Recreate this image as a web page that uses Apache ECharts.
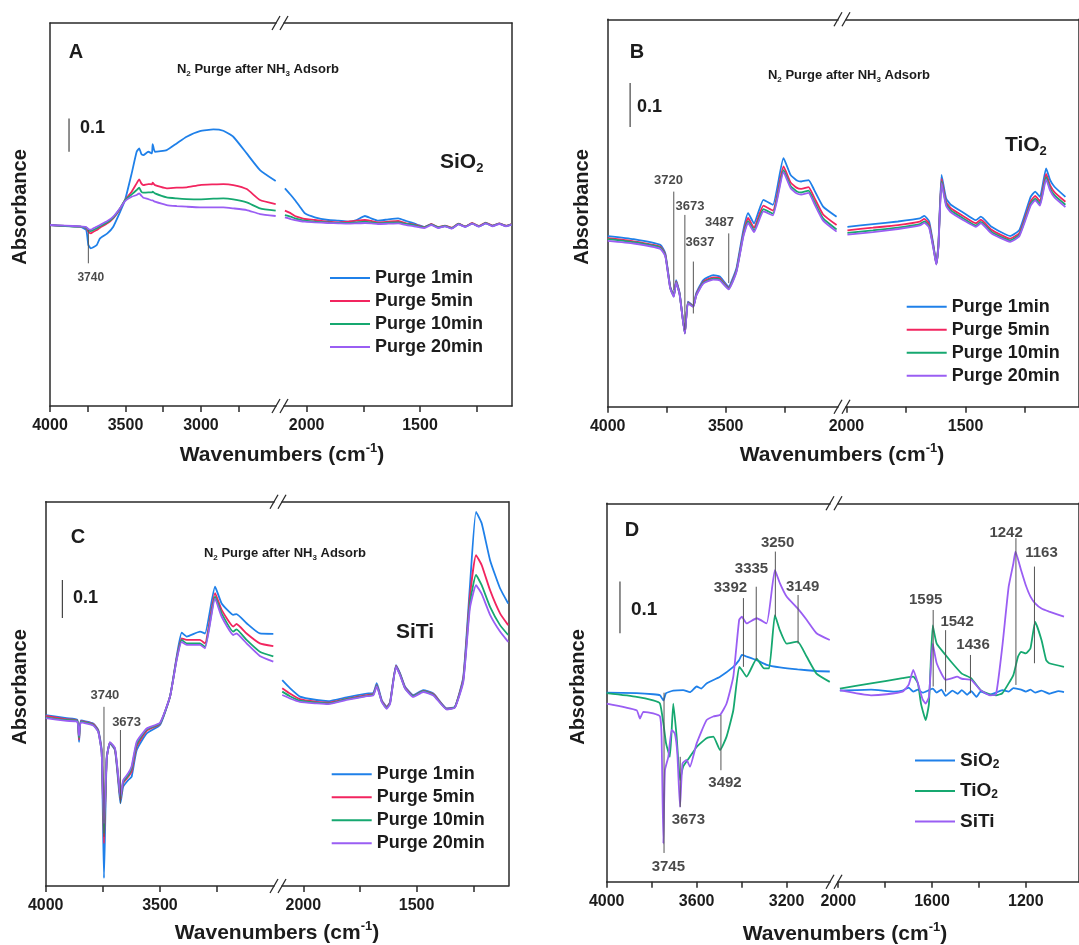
<!DOCTYPE html>
<html>
<head>
<meta charset="utf-8">
<title>N2 purge after NH3 adsorb</title>
<script src="https://cdn.jsdelivr.net/npm/echarts@6/dist/echarts.min.js"></script>
<style>
  html, body { margin: 0; padding: 0; background: #fff; }
  #chart { width: 1079px; height: 945px; }
</style>
</head>
<body>
<div id="chart"></div>
<script>
// ---- panel A (SiO2) ----
var aWaveL = [4000, 3900, 3800, 3760, 3746, 3730, 3713, 3690, 3669, 3620, 3581, 3540, 3503, 3459, 3426, 3409, 3395, 3382, 3349, 3325, 3320, 3305, 3227, 3161, 3095, 3007, 2918, 2852, 2786, 2697, 2609, 2505];
var aP1L  = [0, -0.003, -0.005, -0.015, -0.06, -0.07, -0.067, -0.06, -0.04, -0.025, -0.005, 0.035, 0.075, 0.155, 0.22, 0.23, 0.213, 0.21, 0.22, 0.215, 0.243, 0.22, 0.225, 0.245, 0.265, 0.282, 0.287, 0.283, 0.265, 0.215, 0.165, 0.132];
var aP5L  = [0, -0.003, -0.005, -0.01, -0.02, -0.025, -0.02, -0.015, -0.008, 0.005, 0.02, 0.045, 0.075, 0.1, 0.125, 0.137, 0.125, 0.12, 0.123, 0.122, 0.127, 0.12, 0.11, 0.112, 0.113, 0.12, 0.122, 0.123, 0.12, 0.108, 0.075, 0.063];
var aP10L = [0, -0.003, -0.005, -0.008, -0.015, -0.018, -0.015, -0.01, -0.004, 0.008, 0.022, 0.047, 0.075, 0.092, 0.105, 0.112, 0.1, 0.097, 0.098, 0.098, 0.1, 0.095, 0.083, 0.08, 0.078, 0.077, 0.079, 0.08, 0.077, 0.068, 0.05, 0.043];
var aP20L = [0, -0.002, -0.004, -0.006, -0.012, -0.014, -0.01, -0.005, 0, 0.012, 0.025, 0.048, 0.072, 0.085, 0.09, 0.095, 0.088, 0.082, 0.078, 0.074, 0.074, 0.07, 0.06, 0.057, 0.055, 0.053, 0.053, 0.053, 0.05, 0.045, 0.033, 0.027];
var aWaveR = [2096, 2070, 2052, 2030, 2008, 1964, 1905, 1860, 1817, 1780, 1743, 1715, 1685, 1640, 1596, 1560, 1530, 1508, 1480, 1450, 1420, 1390, 1360, 1330, 1300, 1270, 1240, 1210, 1180, 1150, 1120, 1096];
var aP1R  = [0.11, 0.09, 0.075, 0.055, 0.035, 0.023, 0.015, 0.013, 0.01, 0.015, 0.027, 0.02, 0.013, 0.017, 0.02, 0.012, 0.006, 0, -0.006, 0.002, -0.008, -0.003, -0.01, 0.003, -0.005, 0.004, -0.004, 0.005, -0.002, 0.004, -0.003, 0.002];
var aP5R  = [0.043, 0.035, 0.027, 0.022, 0.018, 0.015, 0.01, 0.008, 0.01, 0.013, 0.015, 0.012, 0.008, 0.01, 0.012, 0.005, 0.002, -0.002, -0.006, 0.003, -0.006, -0.002, -0.008, 0.004, -0.004, 0.006, -0.003, 0.007, -0.002, 0.005, -0.002, 0.003];
var aP10R = [0.03, 0.025, 0.02, 0.016, 0.013, 0.01, 0.008, 0.006, 0.006, 0.008, 0.01, 0.008, 0.005, 0.007, 0.008, 0.003, 0, -0.004, -0.007, 0.002, -0.007, -0.003, -0.009, 0.003, -0.005, 0.005, -0.004, 0.006, -0.003, 0.004, -0.003, 0.002];
var aP20R = [0.023, 0.018, 0.015, 0.012, 0.01, 0.008, 0.006, 0.005, 0.004, 0.005, 0.006, 0.005, 0.003, 0.004, 0.005, 0, -0.003, -0.006, -0.009, 0, -0.009, -0.004, -0.011, 0.002, -0.006, 0.004, -0.005, 0.005, -0.004, 0.003, -0.004, 0.001];

// ---- panel B (TiO2) ----
var bWaveL = [4000, 3890, 3777, 3756, 3735, 3720, 3710, 3695, 3673, 3660, 3637, 3625, 3595, 3553, 3525, 3487, 3470, 3453, 3425, 3405, 3380, 3340, 3300, 3255, 3225, 3200, 3180, 3149, 3125, 3087, 3030];
var bP1L  = [0.009, 0.002, -0.011, -0.03, -0.106, -0.125, -0.091, -0.121, -0.212, -0.14, -0.15, -0.121, -0.091, -0.08, -0.083, -0.106, -0.087, -0.061, 0.023, 0.061, 0.038, 0.091, 0.08, 0.186, 0.148, 0.136, 0.133, 0.136, 0.114, 0.076, 0.053];
var bP5L  = [0.004, -0.003, -0.015, -0.033, -0.108, -0.127, -0.094, -0.123, -0.212, -0.142, -0.15, -0.124, -0.095, -0.085, -0.087, -0.109, -0.091, -0.066, 0.015, 0.05, 0.028, 0.078, 0.067, 0.167, 0.131, 0.119, 0.116, 0.12, 0.097, 0.058, 0.034];
var bP10L = [0.002, -0.005, -0.017, -0.035, -0.109, -0.128, -0.096, -0.124, -0.212, -0.143, -0.151, -0.126, -0.097, -0.088, -0.09, -0.111, -0.093, -0.068, 0.011, 0.043, 0.022, 0.07, 0.06, 0.159, 0.123, 0.111, 0.108, 0.112, 0.088, 0.049, 0.024];
var bP20L = [-0.002, -0.008, -0.02, -0.037, -0.11, -0.129, -0.097, -0.125, -0.213, -0.144, -0.152, -0.127, -0.099, -0.09, -0.092, -0.112, -0.095, -0.07, 0.008, 0.039, 0.018, 0.065, 0.056, 0.154, 0.118, 0.106, 0.103, 0.107, 0.083, 0.044, 0.019];
var bWaveR = [1996, 1889, 1784, 1692, 1673, 1653, 1634, 1623, 1614, 1601, 1582, 1562, 1509, 1457, 1436, 1391, 1313, 1274, 1227, 1208, 1188, 1162, 1145, 1127, 1081];
var bP1R  = [0.03, 0.036, 0.042, 0.049, 0.055, 0.042, -0.015, -0.053, -0.008, 0.148, 0.095, 0.08, 0.062, 0.045, 0.053, 0.03, 0.009, 0.023, 0.098, 0.11, 0.098, 0.163, 0.136, 0.121, 0.098];
var bP5R  = [0.022, 0.028, 0.034, 0.042, 0.048, 0.036, -0.018, -0.054, -0.011, 0.139, 0.087, 0.072, 0.054, 0.038, 0.046, 0.023, 0.003, 0.016, 0.088, 0.1, 0.088, 0.15, 0.124, 0.109, 0.087];
var bP10R = [0.016, 0.022, 0.028, 0.036, 0.042, 0.031, -0.021, -0.055, -0.013, 0.133, 0.082, 0.067, 0.049, 0.033, 0.041, 0.018, -0.001, 0.012, 0.082, 0.094, 0.082, 0.143, 0.117, 0.102, 0.08];
var bP20R = [0.012, 0.018, 0.025, 0.033, 0.039, 0.028, -0.023, -0.056, -0.015, 0.129, 0.078, 0.063, 0.045, 0.03, 0.038, 0.015, -0.004, 0.009, 0.078, 0.09, 0.078, 0.138, 0.112, 0.097, 0.075];

// ---- panel C (SiTi) ----
var cWaveL = [4000, 3908, 3862, 3854, 3846, 3792, 3770, 3755, 3745, 3733, 3719, 3697, 3682, 3673, 3661, 3639, 3624, 3602, 3558, 3500, 3456, 3427, 3405, 3383, 3325, 3303, 3259, 3230, 3179, 3165, 3121, 3063, 3004];
var cP1L  = [0.004, -0.004, -0.008, -0.066, -0.01, -0.018, -0.035, -0.088, -0.425, -0.105, -0.07, -0.088, -0.175, -0.228, -0.184, -0.167, -0.158, -0.088, -0.044, -0.022, 0.053, 0.158, 0.221, 0.211, 0.224, 0.219, 0.342, 0.298, 0.268, 0.27, 0.246, 0.219, 0.218];
var cP5L  = [0.002, -0.007, -0.01, -0.06, -0.012, -0.019, -0.037, -0.092, -0.333, -0.11, -0.068, -0.086, -0.167, -0.219, -0.175, -0.158, -0.145, -0.079, -0.037, -0.019, 0.053, 0.154, 0.206, 0.202, 0.202, 0.193, 0.325, 0.281, 0.237, 0.244, 0.219, 0.193, 0.186];
var cP10L = [-0.002, -0.009, -0.011, -0.055, -0.013, -0.021, -0.039, -0.095, -0.307, -0.111, -0.068, -0.084, -0.162, -0.215, -0.171, -0.154, -0.136, -0.072, -0.033, -0.018, 0.053, 0.151, 0.202, 0.193, 0.193, 0.184, 0.316, 0.272, 0.224, 0.23, 0.202, 0.171, 0.159];
var cP20L = [-0.004, -0.011, -0.013, -0.05, -0.015, -0.023, -0.04, -0.096, -0.281, -0.111, -0.067, -0.082, -0.158, -0.211, -0.167, -0.149, -0.13, -0.066, -0.031, -0.016, 0.053, 0.149, 0.197, 0.189, 0.189, 0.18, 0.311, 0.263, 0.215, 0.219, 0.193, 0.16, 0.145];
var cWaveR = [2093, 2059, 2015, 1941, 1890, 1809, 1720, 1691, 1676, 1654, 1632, 1617, 1591, 1573, 1551, 1515, 1471, 1426, 1367, 1331, 1294, 1265, 1238, 1213, 1176, 1132, 1096];
var cP1R  = [0.096, 0.075, 0.053, 0.044, 0.041, 0.051, 0.061, 0.063, 0.088, 0.044, 0.026, 0.039, 0.136, 0.114, 0.079, 0.057, 0.07, 0.061, 0.022, 0.026, 0.105, 0.342, 0.539, 0.509, 0.412, 0.338, 0.298];
var cP5R  = [0.075, 0.061, 0.046, 0.039, 0.037, 0.047, 0.057, 0.06, 0.083, 0.042, 0.025, 0.038, 0.134, 0.112, 0.077, 0.055, 0.068, 0.06, 0.021, 0.025, 0.101, 0.316, 0.425, 0.399, 0.333, 0.272, 0.241];
var cP10R = [0.066, 0.054, 0.042, 0.037, 0.035, 0.046, 0.055, 0.058, 0.082, 0.04, 0.023, 0.036, 0.132, 0.111, 0.075, 0.054, 0.067, 0.058, 0.02, 0.025, 0.096, 0.298, 0.373, 0.346, 0.289, 0.241, 0.215];
var cP20R = [0.057, 0.048, 0.039, 0.035, 0.033, 0.044, 0.054, 0.056, 0.08, 0.039, 0.021, 0.034, 0.131, 0.109, 0.074, 0.052, 0.065, 0.056, 0.019, 0.024, 0.092, 0.285, 0.346, 0.323, 0.268, 0.224, 0.197];

// ---- panel D (comparison), [wavenumber, absorbance] ----
var dSio2L = [[4000, 0], [3867, -0.001], [3793, -0.003], [3763, -0.005], [3748, -0.015], [3736, -0.001], [3704, 0.004], [3660, 0.005], [3630, 0.001], [3600, 0.012], [3580, 0.008], [3556, 0.018], [3496, 0.031], [3437, 0.05], [3411, 0.063], [3399, 0.073], [3378, 0.07], [3333, 0.063], [3289, 0.054], [3230, 0.049], [3151, 0.045], [3067, 0.042], [3008, 0.041]];
var dTio2L = [[4000, -0.001], [3867, -0.008], [3793, -0.015], [3763, -0.021], [3748, -0.059], [3736, -0.098], [3719, -0.124], [3704, -0.021], [3689, -0.085], [3674, -0.169], [3660, -0.143], [3630, -0.124], [3600, -0.105], [3556, -0.088], [3526, -0.085], [3496, -0.111], [3467, -0.085], [3437, -0.034], [3411, 0.05], [3399, 0.044], [3378, 0.031], [3333, 0.066], [3300, 0.047], [3278, 0.047], [3252, 0.15], [3230, 0.121], [3200, 0.095], [3151, 0.099], [3111, 0.07], [3067, 0.037], [3008, 0.021]];
var dSitiL = [[4000, -0.021], [3867, -0.034], [3852, -0.05], [3837, -0.037], [3793, -0.04], [3763, -0.046], [3756, -0.085], [3748, -0.292], [3741, -0.15], [3726, -0.124], [3711, -0.072], [3697, -0.079], [3686, -0.117], [3674, -0.221], [3663, -0.137], [3645, -0.13], [3630, -0.143], [3600, -0.098], [3556, -0.053], [3526, -0.046], [3496, -0.043], [3467, -0.021], [3437, 0.031], [3411, 0.141], [3399, 0.147], [3378, 0.134], [3333, 0.144], [3289, 0.134], [3252, 0.237], [3230, 0.212], [3200, 0.186], [3151, 0.163], [3111, 0.141], [3067, 0.115], [3008, 0.102]];
var dSio2R = [[1993, 0.004], [1860, 0.006], [1760, 0.002], [1726, 0.004], [1700, 0.01], [1680, 0.002], [1660, 0.006], [1640, 0], [1613, 0.005], [1597, 0.008], [1580, 0], [1560, 0.006], [1542, -0.006], [1513, 0.004], [1490, -0.002], [1473, 0.005], [1450, -0.004], [1433, 0.003], [1410, -0.008], [1393, 0.002], [1353, -0.004], [1327, 0], [1300, 0.005], [1273, 0.002], [1253, 0.009], [1220, 0.006], [1200, 0.002], [1180, 0.006], [1160, 0], [1133, 0.004], [1100, -0.002], [1060, 0.003], [1037, 0.001]];
var dTio2R = [[1993, 0.008], [1860, 0.018], [1726, 0.028], [1700, 0.03], [1680, 0.031], [1660, 0.018], [1647, -0.021], [1627, -0.053], [1613, -0.021], [1597, 0.13], [1580, 0.095], [1542, 0.073], [1513, 0.057], [1473, 0.037], [1433, 0.028], [1393, 0.005], [1353, -0.003], [1327, -0.005], [1300, -0.001], [1273, 0.018], [1253, 0.034], [1233, 0.07], [1220, 0.079], [1200, 0.076], [1180, 0.086], [1160, 0.137], [1133, 0.102], [1113, 0.063], [1100, 0.057], [1037, 0.05]];
var dSitiR = [[1993, 0.005], [1860, -0.005], [1793, -0.003], [1726, 0.002], [1700, 0.015], [1680, 0.044], [1660, 0.018], [1640, -0.013], [1627, -0.021], [1613, -0.008], [1597, 0.095], [1580, 0.057], [1542, 0.025], [1513, 0.028], [1493, 0.031], [1473, 0.027], [1433, 0.025], [1393, 0.005], [1353, -0.005], [1327, -0.003], [1300, 0.09], [1273, 0.205], [1253, 0.25], [1244, 0.273], [1220, 0.237], [1200, 0.208], [1180, 0.186], [1160, 0.173], [1133, 0.163], [1100, 0.157], [1037, 0.147]];

// peak marks: [line wavenumber, from, to, text, label wavenumber, label absorbance]
var aMarks  = [[3746, -0.015, -0.115, '3740', 3730, -0.159]];
var bMarks  = [[3720, 0.11, -0.114, '3720', 3742, 0.136], [3673, 0.057, -0.205, '3673', 3651, 0.076], [3637, -0.049, -0.167, '3637', 3609, -0.006], [3487, 0.015, -0.098, '3487', 3526, 0.039]];
var cMarks  = [[3745, 0.026, -0.316, '3740', 3741, 0.055], [3673, -0.035, -0.228, '3673', 3646, -0.015]];
var dMarksL = [[3745, 0, -0.31, '3745', 3726, -0.337], [3673, -0.124, -0.221, '3673', 3637, -0.246], [3492, -0.043, -0.15, '3492', 3474, -0.174], [3392, 0.183, 0.05, '3392', 3450, 0.202], [3335, 0.205, 0.063, '3335', 3356, 0.239], [3250, 0.273, 0.147, '3250', 3240, 0.29], [3149, 0.189, 0.095, '3149', 3129, 0.205]];
var dMarksR = [[1595, 0.16, 0.012, '1595', 1627, 0.179], [1542, 0.121, 0.002, '1542', 1493, 0.137], [1436, 0.073, -0.001, '1436', 1425, 0.092], [1242, 0.299, 0.015, '1242', 1284, 0.31], [1163, 0.244, 0.057, '1163', 1133, 0.27]];

// 0.1 scale bars: [wavenumber, lower end]
var aScale = [3874, 0.22];
var bScale = [3905, 0.257];
var cScale = [3927, 0.26];
var dScale = [3941, 0.115];

// tick marks and tick labels
var ticks250L = [4000, 3750, 3500, 3250];
var aTicksL = [4000, 3750, 3500, 3250, 3000, 2750];
var aLabelsL = [4000, 3500, 3000];
var labels500L = [4000, 3500];
var ticks250R = [2000, 1750, 1500, 1250];
var labels500R = [2000, 1500];
var dTicksL = [4000, 3800, 3600, 3400, 3200];
var dLabelsL = [4000, 3600, 3200];
var dTicksR = [2000, 1800, 1600, 1400, 1200];
var dLabelsR = [2000, 1600, 1200];

var PURGE = ['Purge 1min', 'Purge 5min', 'Purge 10min', 'Purge 20min'];
var SAMPLES = ['SiO2', 'TiO2', 'SiTi'];
var COLORS = ['#1f80e9', '#f2255f', '#16a870', '#9a5ef3'];
var FONT = '"Liberation Sans", Arial, sans-serif';
var INK = '#1c1c1c';

// broken-axis segments: pixel box + wavenumber / absorbance range
var segs = [
  {x0: 50,    x1: 276,  top: 23,    bottom: 406,   wMax: 4000, wMin: 2503, yMin: -0.5435, yMax: 0.6066, side: 'left',  ticks: aTicksL,   labels: aLabelsL},
  {x0: 284,   x1: 512,  top: 23,    bottom: 406,   wMax: 2100, wMin: 1094, yMin: -0.5435, yMax: 0.6066, side: 'right', ticks: ticks250R, labels: labels500R},
  {x0: 607.7, x1: 838,  top: 19.3,  bottom: 406.7, wMax: 4000, wMin: 3024, yMin: -0.3789, yMax: 0.5016, side: 'left',  ticks: ticks250L, labels: labels500L},
  {x0: 846,   x1: 1095, top: 19.3,  bottom: 406.7, wMax: 2002, wMin: 1024, yMin: -0.3789, yMax: 0.5016, side: 'right', ticks: ticks250R, labels: labels500R},
  {x0: 45.7,  x1: 274,  top: 501.7, bottom: 886,   wMax: 4000, wMin: 3001, yMin: -0.4455, yMax: 0.5658, side: 'left',  ticks: ticks250L, labels: labels500L},
  {x0: 282,   x1: 508.3, top: 501.7, bottom: 886,  wMax: 2094, wMin: 1095.5, yMin: -0.4455, yMax: 0.5658, side: 'right', ticks: ticks250R, labels: labels500R},
  {x0: 606.7, x1: 830,  top: 503.3, bottom: 881.7, wMax: 4000, wMin: 3007, yMin: -0.3656, yMax: 0.3664, side: 'left',  ticks: dTicksL, labels: dLabelsL},
  {x0: 838,   x1: 1095, top: 503.3, bottom: 881.7, wMax: 2001, wMin: 973,  yMin: -0.3656, yMax: 0.3664, side: 'right', ticks: dTicksR, labels: dLabelsR}
];

var frameLine = {color: '#2a2a2a', width: 1.5};
var grids = [], xAxes = [], yAxes = [], series = [];

segs.forEach(function (s, i) {
  grids.push({left: s.x0, width: s.x1 - s.x0, top: s.top, height: s.bottom - s.top, containLabel: false});
  xAxes.push({
    type: 'value', gridIndex: i, position: 'bottom', inverse: true, min: s.wMin, max: s.wMax,
    axisLine: {show: true, onZero: false, lineStyle: frameLine},
    axisTick: {show: true, customValues: s.ticks, length: 6, lineStyle: frameLine},
    axisLabel: {customValues: s.labels, margin: 12, fontSize: 16, fontWeight: 'bold', color: INK, fontFamily: FONT,
                formatter: function (v) { return String(v); }},
    splitLine: {show: false}
  });
  xAxes.push({
    type: 'value', gridIndex: i, position: 'top', inverse: true, min: s.wMin, max: s.wMax,
    axisLine: {show: true, onZero: false, lineStyle: frameLine},
    axisTick: {show: false}, axisLabel: {show: false}, splitLine: {show: false}
  });
  yAxes.push({
    type: 'value', gridIndex: i, position: s.side, min: s.yMin, max: s.yMax,
    axisLine: {show: true, onZero: false, lineStyle: frameLine},
    axisTick: {show: false}, axisLabel: {show: false}, splitLine: {show: false}
  });
});

function zip(ws, vs) {
  return ws.map(function (w, i) { return [w, vs[i]]; });
}

function spectrum(seg, name, color, data) {
  series.push({
    type: 'line', name: name, xAxisIndex: seg * 2, yAxisIndex: seg, data: data,
    symbol: 'none', smooth: 0.15, silent: true, z: 3,
    lineStyle: {color: color, width: 1.8}, itemStyle: {color: color}
  });
}

function marks(seg, list, size) {
  list.forEach(function (m) {
    series.push({
      type: 'line', xAxisIndex: seg * 2, yAxisIndex: seg, data: [[m[0], m[1]], [m[0], m[2]]],
      symbol: 'none', silent: true, z: 4, lineStyle: {color: '#555', width: 1}
    });
  });
  series.push({
    type: 'scatter', xAxisIndex: seg * 2, yAxisIndex: seg, symbolSize: 1, silent: true, z: 5,
    itemStyle: {color: 'rgba(0,0,0,0)'},
    label: {show: true, position: 'inside', fontSize: size, fontWeight: 'bold', color: INK, fontFamily: FONT},
    data: list.map(function (m) { return {value: [m[4], m[5]], label: {formatter: m[3]}}; })
  });
}

function scaleBar(seg, sb) {
  series.push({
    type: 'line', xAxisIndex: seg * 2, yAxisIndex: seg, data: [[sb[0], sb[1]], [sb[0], sb[1] + 0.1]],
    symbol: 'none', silent: true, z: 4, lineStyle: {color: '#444', width: 1.2}
  });
}

var aL = [aP1L, aP5L, aP10L, aP20L], aR = [aP1R, aP5R, aP10R, aP20R];
var bL = [bP1L, bP5L, bP10L, bP20L], bR = [bP1R, bP5R, bP10R, bP20R];
var cL = [cP1L, cP5L, cP10L, cP20L], cR = [cP1R, cP5R, cP10R, cP20R];
for (var k = 0; k < 4; k++) {
  spectrum(0, PURGE[k], COLORS[k], zip(aWaveL, aL[k]));
  spectrum(1, PURGE[k], COLORS[k], zip(aWaveR, aR[k]));
  spectrum(2, PURGE[k], COLORS[k], zip(bWaveL, bL[k]));
  spectrum(3, PURGE[k], COLORS[k], zip(bWaveR, bR[k]));
  spectrum(4, PURGE[k], COLORS[k], zip(cWaveL, cL[k]));
  spectrum(5, PURGE[k], COLORS[k], zip(cWaveR, cR[k]));
}
var dColors = [COLORS[0], COLORS[2], COLORS[3]];
[dSio2L, dTio2L, dSitiL].forEach(function (d, k) { spectrum(6, SAMPLES[k], dColors[k], d); });
[dSio2R, dTio2R, dSitiR].forEach(function (d, k) { spectrum(7, SAMPLES[k], dColors[k], d); });

marks(0, aMarks, 12);
marks(2, bMarks, 13);
marks(4, cMarks, 13);
marks(6, dMarksL, 15);
marks(7, dMarksR, 15);
scaleBar(0, aScale);
scaleBar(2, bScale);
scaleBar(4, cScale);
scaleBar(6, dScale);

// legends: plain line keys
function purgeLegend(left, top) {
  return {
    data: PURGE, left: left, top: top, orient: 'vertical', padding: 0,
    icon: 'rect', itemWidth: 40, itemHeight: 2, itemGap: 5, selectedMode: false,
    textStyle: {fontSize: 18, fontWeight: 'bold', color: INK, fontFamily: FONT, lineHeight: 18}
  };
}
var legends = [
  purgeLegend(330, 269),
  purgeLegend(906.7, 297.7),
  purgeLegend(331.7, 765.3),
  {
    data: SAMPLES, left: 915, top: 751, orient: 'vertical', padding: 0,
    icon: 'rect', itemWidth: 40, itemHeight: 2, itemGap: 11, selectedMode: false,
    formatter: function (n) { return n === 'SiTi' ? '{b|SiTi}' : '{b|' + n.slice(0, 3) + '}{s|2}'; },
    textStyle: {
      color: INK, fontFamily: FONT,
      rich: {
        b: {fontSize: 19, fontWeight: 'bold', lineHeight: 20, color: INK, fontFamily: FONT},
        s: {fontSize: 12, fontWeight: 'bold', lineHeight: 10, verticalAlign: 'bottom', color: INK, fontFamily: FONT}
      }
    }
  }
];

// free text
function richSet(size) {
  return {
    n: {fontSize: size, fontWeight: 'bold', fontFamily: FONT, color: INK, lineHeight: size + 5},
    s: {fontSize: Math.round(size * 0.62), fontWeight: 'bold', fontFamily: FONT, color: INK, lineHeight: Math.round(size * 0.6), verticalAlign: 'bottom'},
    p: {fontSize: Math.round(size * 0.62), fontWeight: 'bold', fontFamily: FONT, color: INK, lineHeight: Math.round(size * 0.6), verticalAlign: 'top'}
  };
}
function label(x, y, text, size, align, rot) {
  return {
    type: 'text', x: x, y: y, rotation: rot || 0, silent: true, z: 10,
    style: {text: text, align: align || 'center', verticalAlign: 'middle', rich: richSet(size),
            fontSize: size, fontWeight: 'bold', fontFamily: FONT, fill: INK}
  };
}
function breakMark(bx, y) {
  return [-4, 4].map(function (dx) {
    return {type: 'line', silent: true, z: 10,
      shape: {x1: bx + dx - 4, y1: y + 7, x2: bx + dx + 4, y2: y - 7},
      style: {stroke: '#2a2a2a', lineWidth: 1.3}};
  });
}

var subtitle = '{n|N}{s|2}{n| Purge after NH}{s|3}{n| Adsorb}';
var xName = '{n|Wavenumbers (cm}{p|-1}{n|)}';
var graphics = [
  label(76, 52, '{n|A}', 20), label(258, 69, subtitle, 13), label(80, 128, '{n|0.1}', 18, 'left'),
  label(440, 162, '{n|SiO}{s|2}', 21, 'left'), label(20, 207, '{n|Absorbance}', 20, 'center', Math.PI / 2),
  label(282, 455, xName, 21),
  label(637, 52, '{n|B}', 20), label(849, 75, subtitle, 13), label(637, 107, '{n|0.1}', 18, 'left'),
  label(1005, 145, '{n|TiO}{s|2}', 21, 'left'), label(582, 207, '{n|Absorbance}', 20, 'center', Math.PI / 2),
  label(842, 455, xName, 21),
  label(78, 537, '{n|C}', 20), label(285, 553, subtitle, 13), label(73, 598, '{n|0.1}', 18, 'left'),
  label(415, 632, '{n|SiTi}', 21), label(20, 687, '{n|Absorbance}', 20, 'center', Math.PI / 2),
  label(277, 933, xName, 21),
  label(632, 530, '{n|D}', 20), label(631, 610, '{n|0.1}', 19, 'left'),
  label(578, 687, '{n|Absorbance}', 20, 'center', Math.PI / 2), label(845, 934, xName, 21)
];
[[280, 23, 406], [842, 19.3, 406.7], [278, 501.7, 886], [834, 503.3, 881.7]].forEach(function (b) {
  graphics = graphics.concat(breakMark(b[0], b[1]), breakMark(b[0], b[2]));
});

var chart = echarts.init(document.getElementById('chart'));
chart.setOption({
  animation: false,
  backgroundColor: '#fff',
  grid: grids,
  xAxis: xAxes,
  yAxis: yAxes,
  legend: legends,
  series: series,
  graphic: graphics
});
</script>
</body>
</html>
